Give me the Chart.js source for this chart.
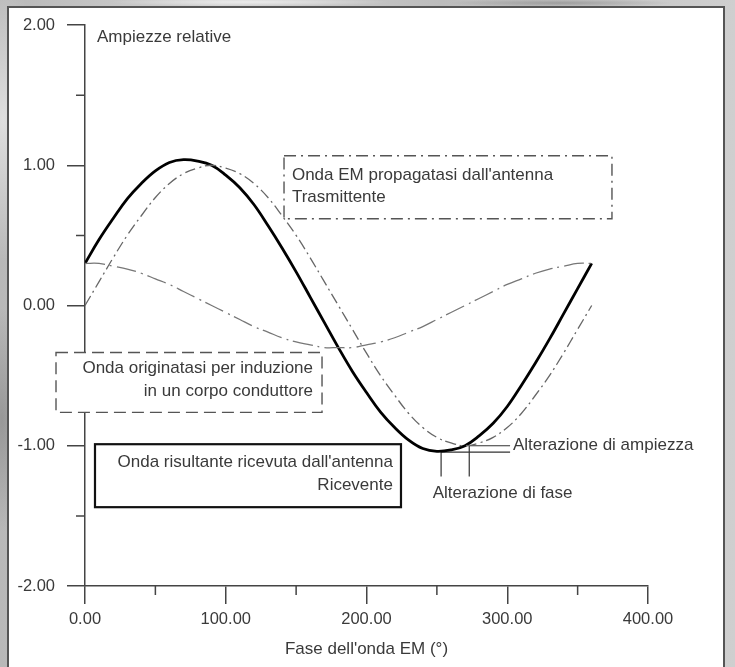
<!DOCTYPE html>
<html>
<head>
<meta charset="utf-8">
<script src="https://cdn.jsdelivr.net/npm/chart.js@4.4.1/dist/chart.umd.min.js"></script>
<style>
  html, body { margin:0; padding:0; }
  body {
    width:735px; height:667px; overflow:hidden; position:relative;
    background-color:#c2c2c2;
    background-image:
      radial-gradient(ellipse 60px 200px at 3px 120px, rgba(255,255,255,0.55), rgba(255,255,255,0) 70%),
      radial-gradient(ellipse 40px 160px at 2px 420px, rgba(90,90,90,0.35), rgba(90,90,90,0) 70%),
      radial-gradient(ellipse 200px 6px at 250px 2px, rgba(255,255,255,0.6), rgba(255,255,255,0) 70%),
      radial-gradient(ellipse 160px 6px at 560px 3px, rgba(100,100,100,0.4), rgba(100,100,100,0) 70%),
      linear-gradient(90deg, #b8b8b8, #d2d2d2 30%, #bcbcbc 60%, #cfcfcf);
  }
  #panel {
    position:absolute; left:7px; top:6px; width:718px; height:670px;
    background:#fff; border:2px solid #555; box-sizing:border-box;
  }
  #c { position:absolute; left:0; top:0; }
</style>
</head>
<body>
<div id="panel"></div>
<canvas id="c" width="735" height="667"></canvas>
<script>
// ---- data ----
const phase = [0,10,20,30,40,50,60,70,80,90,100,110,120,130,140,150,160,170,180,
               190,200,210,220,230,240,250,260,270,280,290,300,310,320,330,340,350,360];
const transmitted = [0.00,0.17,0.34,0.50,0.64,0.77,0.87,0.94,0.98,1.00,0.98,0.94,0.87,0.77,0.64,0.50,0.34,0.17,0.00,
                     -0.17,-0.34,-0.50,-0.64,-0.77,-0.87,-0.94,-0.98,-1.00,-0.98,-0.94,-0.87,-0.77,-0.64,-0.50,-0.34,-0.17,0.00];
const induced = [0.30,0.30,0.28,0.26,0.23,0.19,0.15,0.10,0.05,0.00,-0.05,-0.10,-0.15,-0.19,-0.23,-0.26,-0.28,-0.30,-0.30,
                 -0.30,-0.28,-0.26,-0.23,-0.19,-0.15,-0.10,-0.05,0.00,0.05,0.10,0.15,0.19,0.23,0.26,0.28,0.30,0.30];
const resultant = [0.30,0.47,0.62,0.76,0.87,0.96,1.02,1.04,1.03,1.00,0.93,0.84,0.72,0.57,0.41,0.24,0.06,-0.12,-0.30,
                   -0.47,-0.62,-0.76,-0.87,-0.96,-1.02,-1.04,-1.03,-1.00,-0.93,-0.84,-0.72,-0.57,-0.41,-0.24,-0.06,0.12,0.30];
const xTickValues = [0,100,200,300,400];
const yTickValues = [-2,-1,0,1,2];
const xMinorTicks = [50,150,250,350];
const yMinorTicks = [-1.5,-0.5,0.5,1.5];
const yTitle = 'Ampiezze relative';
const xTitle = "Fase dell'onda EM (°)";
const labelTransmitted = ["Onda EM propagatasi dall'antenna", 'Trasmittente'];
const labelInduced = ['Onda originatasi per induzione', 'in un corpo conduttore'];
const labelResultant = ["Onda risultante ricevuta dall'antenna", 'Ricevente'];
const labelAmp = 'Alterazione di ampiezza';
const labelPhase = 'Alterazione di fase';
// key points of the annotation (phase °, amplitude)
const minResultant = {x:253, y:-1.045};
const minTransmitted = {x:273, y:-1.00};

const FONT = '"Liberation Sans", Arial, sans-serif';
const TXT = '#3a3a3a';
const AX = '#444';

function pts(ys){ return phase.map((p,i)=>({x:p, y:ys[i]})); }

const annot = {
  id:'annot',
  beforeDatasetsDraw(chart){
    const ctx = chart.ctx, xs = chart.scales.x, ys = chart.scales.y;
    const X = v=>xs.getPixelForValue(v), Y = v=>ys.getPixelForValue(v);
    ctx.save();
    // minor ticks
    ctx.strokeStyle = AX; ctx.lineWidth = 1.5;
    ctx.beginPath();
    yMinorTicks.forEach(v=>{ ctx.moveTo(xs.left-9, Y(v)); ctx.lineTo(xs.left, Y(v)); });
    xMinorTicks.forEach(v=>{ ctx.moveTo(X(v), ys.bottom); ctx.lineTo(X(v), ys.bottom+9); });
    ctx.stroke();

    function box(x0,y0,x1,y1,dash,lw,col){
      const l=X(x0), r=X(x1), t=Y(y0), b=Y(y1);
      ctx.fillStyle='#fff'; ctx.fillRect(l,t,r-l,b-t);
      ctx.setLineDash(dash); ctx.lineWidth=lw; ctx.strokeStyle=col;
      ctx.strokeRect(l,t,r-l,b-t);
      ctx.setLineDash([]);
    }
    box(141.4,1.068,374.4,0.619,[12,5,2,5],1.4,'#555');
    box(-20.6,-0.335,168.4,-0.762,[12,6],1.4,'#555');
    box(7.1,-0.989,224.5,-1.438,[],2.2,'#111');

    ctx.fillStyle = TXT; ctx.font = '17px '+FONT; ctx.textBaseline='middle';
    ctx.textAlign='left';
    ctx.fillText(labelTransmitted[0], X(147), Y(0.925));
    ctx.fillText(labelTransmitted[1], X(147), Y(0.769));
    ctx.textAlign='right';
    ctx.fillText(labelInduced[0], X(162), Y(-0.448));
    ctx.fillText(labelInduced[1], X(162), Y(-0.612));
    ctx.fillText(labelResultant[0], X(218.8), Y(-1.117));
    ctx.fillText(labelResultant[1], X(218.8), Y(-1.281));
    ctx.textAlign='left';
    ctx.fillText(yTitle, X(8.5), Y(1.91));
    ctx.fillText(labelAmp, X(304), Y(-1.0));
    ctx.fillText(labelPhase, X(247), Y(-1.338));

    // annotation leader lines
    ctx.strokeStyle = '#333'; ctx.lineWidth = 1.2;
    ctx.beginPath();
    ctx.moveTo(X(minTransmitted.x), Y(minTransmitted.y)); ctx.lineTo(X(302), Y(minTransmitted.y));
    ctx.moveTo(X(minResultant.x), Y(minResultant.y)); ctx.lineTo(X(302), Y(minResultant.y));
    ctx.moveTo(X(minResultant.x), Y(minResultant.y)); ctx.lineTo(X(minResultant.x), Y(-1.22));
    ctx.moveTo(X(minTransmitted.x), Y(minTransmitted.y)); ctx.lineTo(X(minTransmitted.x), Y(-1.22));
    ctx.stroke();
    ctx.restore();
  }
};

new Chart(document.getElementById('c'), {
  type:'line',
  data:{
    datasets:[
      {label:'Trasmessa', data:pts(transmitted), borderColor:'#666', borderWidth:1.3,
       borderDash:[11,4,2,4], pointRadius:0, tension:0.4, fill:false},
      {label:'Indotta', data:pts(induced), borderColor:'#777', borderWidth:1.3,
       borderDash:[20,5,2,5], pointRadius:0, tension:0.4, fill:false},
      {label:'Risultante', data:pts(resultant), borderColor:'#000', borderWidth:2.8,
       pointRadius:0, tension:0.4, fill:false}
    ]
  },
  options:{
    responsive:false, animation:false, devicePixelRatio:1,
    layout:{padding:{left:0, top:25, right:87, bottom:0}},
    plugins:{legend:{display:false}, tooltip:{enabled:false}},
    scales:{
      x:{type:'linear', min:0, max:400,
         afterBuildTicks(s){ s.ticks = xTickValues.map(v=>({value:v})); },
         afterFit(s){ s.height = 81; },
         grid:{drawOnChartArea:false, drawTicks:true, tickLength:18, color:AX, lineWidth:1.5},
         border:{display:true, color:AX, width:1.5},
         ticks:{color:TXT, font:{family:FONT, size:16.5}, padding:6, maxRotation:0,
                callback:v=>Number(v).toFixed(2)},
         title:{display:true, text:xTitle, color:TXT, font:{family:FONT, size:17, lineHeight:1.2},
                padding:{top:0, bottom:7}}
      },
      y:{type:'linear', min:-2, max:2,
         afterBuildTicks(s){ s.ticks = yTickValues.map(v=>({value:v})); },
         afterFit(s){ s.width = 85; },
         grid:{drawOnChartArea:false, drawTicks:true, tickLength:18, color:AX, lineWidth:1.5},
         border:{display:true, color:AX, width:1.5},
         ticks:{color:TXT, font:{family:FONT, size:16.5}, padding:12,
                callback:v=>Number(v).toFixed(2)}
      }
    }
  },
  plugins:[annot]
});
</script>
</body>
</html>
